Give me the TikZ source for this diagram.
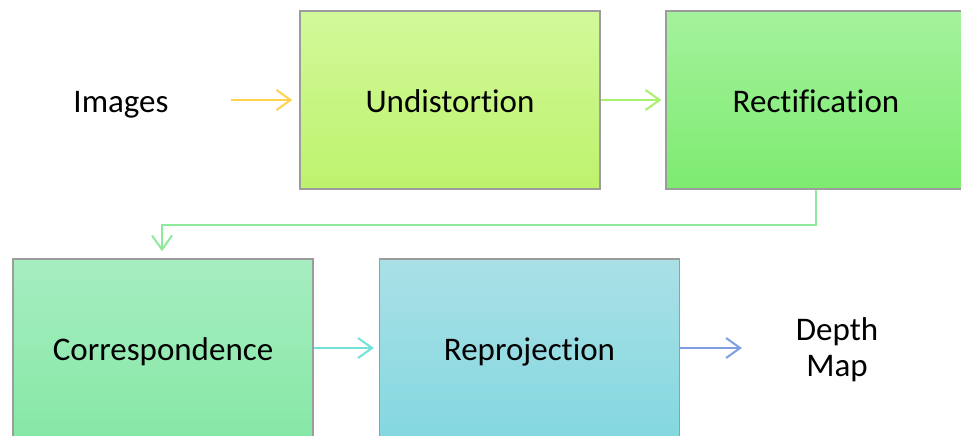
\documentclass[tikz,border=0pt]{standalone}
\usepackage{fontspec}
\setmainfont{Carlito}[Ligatures=NoCommon]
\usetikzlibrary{arrows.meta}

\definecolor{undTop}{HTML}{D2F99A}
\definecolor{undBot}{HTML}{BDF26C}
\definecolor{recTop}{HTML}{A4F29C}
\definecolor{recBot}{HTML}{7DEB70}
\definecolor{corTop}{HTML}{A6EDC0}
\definecolor{corBot}{HTML}{86E8A6}
\definecolor{repTop}{HTML}{AAE0E6}
\definecolor{repBot}{HTML}{84D8E0}
\definecolor{frame}{HTML}{9C9C9C}
\definecolor{arrA}{HTML}{FFD24E}
\definecolor{arrB}{HTML}{A9F06E}
\definecolor{arrC}{HTML}{8EEA9A}
\definecolor{arrD}{HTML}{70E2D8}
\definecolor{arrE}{HTML}{7F9FE2}

\tikzset{
  stage/.style={draw=frame, line width=1.5pt, rectangle,
    minimum width=300pt, minimum height=178pt, inner sep=0pt,
    text height=26pt, text depth=2pt,
    font=\fontsize{33}{36}\selectfont},
  label/.style={inner sep=0pt, align=center,
    font=\fontsize{33}{36}\selectfont},
  flow/.style={line width=2pt,
    -{Straight Barb[length=14pt, width=20pt, line width=2pt]}},
}

\begin{document}
\begin{tikzpicture}[x=1pt, y=-1pt]
  \clip (0,0) rectangle (961,436);
  \fill[white] (0,0) rectangle (961,436);

  % input and output labels
  \node[label, minimum width=220pt, text height=26pt, text depth=2pt] (images) at (121,100) {Images};
  \node[label, minimum width=190pt] (depth) at (837,350) {Depth\\Map};

  % processing stages
  \node[stage, top color=undTop, bottom color=undBot] (und) at (450,100) {Undistortion};
  \node[stage, top color=recTop, bottom color=recBot] (rec) at (816,100) {Rectification};
  \node[stage, top color=corTop, bottom color=corBot] (cor) at (163,348) {Correspondence};
  \node[stage, top color=repTop, bottom color=repBot] (rep) at (529.5,348) {Reprojection};

  % connectors
  \draw[flow, arrA, shorten >=7pt] (images.east) -- (und.west);
  \draw[flow, arrB, shorten >=4pt] (und.east) -- (rec.west);
  \draw[flow, arrC, shorten >=7pt] (rec.south) -- ++(0,35) -| ([xshift=-1pt]cor.north);
  \draw[flow, arrD, shorten >=5pt] (cor.east) -- (rep.west);
  \draw[flow, arrE] (rep.east) -- (depth.west |- rep.east);
\end{tikzpicture}
\end{document}
